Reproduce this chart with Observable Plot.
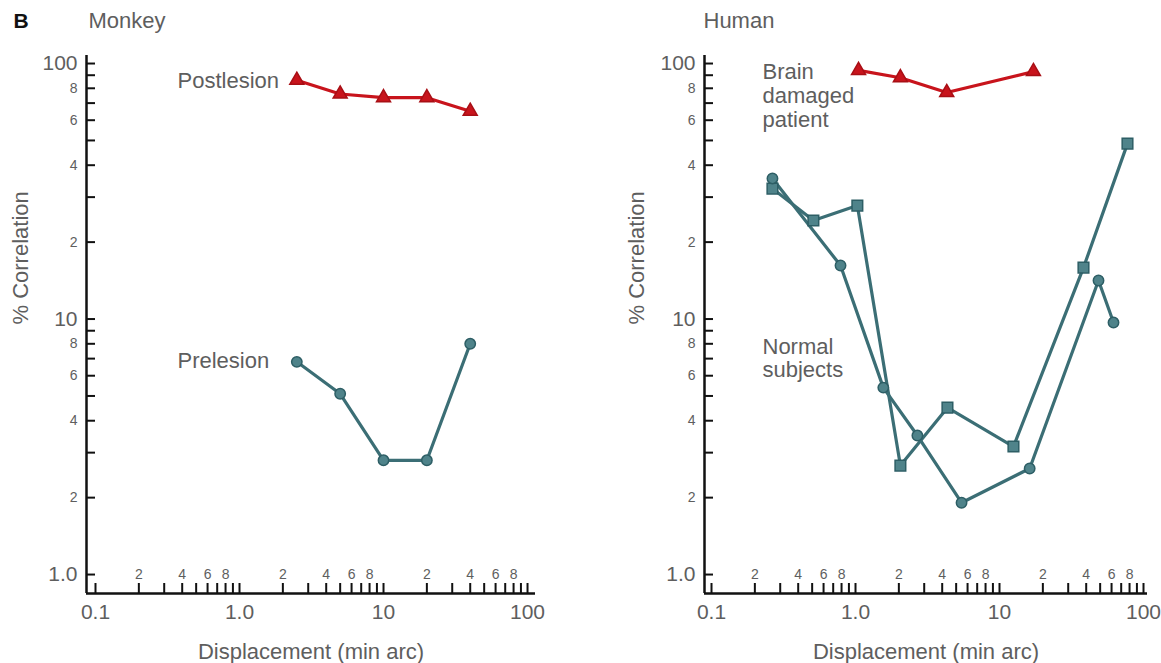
<!DOCTYPE html>
<html><head><meta charset="utf-8">
<script src="https://cdn.jsdelivr.net/npm/d3@7"></script>
<script src="https://cdn.jsdelivr.net/npm/@observablehq/plot@0.6"></script>
<style>
html,body{margin:0;padding:0;background:#fff;}
#wrap{position:relative;width:1161px;height:663px;overflow:hidden;background:#fff;}
#left{position:absolute;left:0;top:0;}
#right{position:absolute;left:600px;top:0;}
svg{overflow:visible;}
</style></head><body>
<div id="wrap"><div id="left"></div><div id="right"></div></div>
<script>
// ---- Data ----
const monkeyDisplacement = [2.5, 5, 10, 20, 40];
const monkeyPostlesion   = [86, 76, 73.5, 73.5, 65];
const monkeyPrelesion    = [6.8, 5.1, 2.8, 2.8, 8.0];

const patientDisplacement = [1.05, 2.05, 4.3, 17.2];
const patientCorrelation  = [94, 88, 77, 93];

const normalSquareDisplacement = [0.265, 0.51, 1.03, 2.05, 4.35, 12.5, 38.3, 77.4];
const normalSquareCorrelation  = [32.4, 24.3, 27.8, 2.67, 4.5, 3.17, 15.9, 48.6];
const normalCircleDisplacement = [0.265, 0.787, 1.56, 2.69, 5.45, 16.2, 48.7, 61.9];
const normalCircleCorrelation  = [35.5, 16.2, 5.39, 3.5, 1.91, 2.6, 14.15, 9.69];

// ---- Axis ticks and tick labels ----
const xTickValues = [0.1,0.2,0.3,0.4,0.5,0.6,0.7,0.8,0.9,1,2,3,4,5,6,7,8,9,10,20,30,40,50,60,70,80,90,100];
const yTickValues = [1,2,3,4,5,6,7,8,9,10,20,30,40,50,60,70,80,90,100];
const xMajorTicks = [0.1, 1, 10, 100];
const xMajorLabels = ["0.1", "1.0", "10", "100"];
const xMinorTicks = [0.2,0.4,0.6,0.8,2,4,6,8,20,40,60,80];
const xMinorLabels = ["2","4","6","8","2","4","6","8","2","4","6","8"];
const yMajorTicks = [1, 10, 100];
const yMajorLabels = ["1.0", "10", "100"];
const yMinorTicks = [2,4,6,8,20,40,60,80];
const yMinorLabels = ["2","4","6","8","2","4","6","8"];

const xTitle = "Displacement (min arc)";
const yTitle = "% Correlation";

const yDomain = [0.843, 107.5];

const RED = "#c8141c", TEAL = "#3b6e75", TEAL_FILL = "#4f838a", TEAL_DARK = "#2d5e65";
const GRAY = "#5e5e5e";
const FONT = "'Liberation Sans', Arial, sans-serif";

const toRows = (xs, ys) => xs.map((x, i) => ({x, y: ys[i]}));

function panel(el, cfg) {
  const H = 663, mt = 55, mb = 70;
  const innerW = cfg.width - cfg.marginLeft - cfg.marginRight;
  const innerH = H - mt - mb;
  const marks = [
    // axis lines
    Plot.ruleY([yDomain[0]], {stroke: "#111", strokeWidth: 2.5}),
    Plot.ruleX([cfg.xDomain[0]], {stroke: "#111", strokeWidth: 2.5}),
    // inward ticks
    Plot.tickX(xTickValues, {x: d => d, insetTop: innerH - 10, stroke: "#111", strokeWidth: 2}),
    Plot.tickY(yTickValues, {y: d => d, insetRight: innerW - 9, stroke: "#111", strokeWidth: 2}),
    // x labels
    Plot.text(xMinorTicks, {x: d => d, text: (d, i) => xMinorLabels[i], frameAnchor: "bottom", lineAnchor: "bottom", dy: -15, fontSize: 14, fill: GRAY}),
    Plot.text(xMajorTicks, {x: d => d, text: (d, i) => xMajorLabels[i], frameAnchor: "bottom", lineAnchor: "top", dy: 11, fontSize: 21, fill: GRAY}),
    // y labels
    Plot.text(yMinorTicks, {y: d => d, text: (d, i) => yMinorLabels[i], frameAnchor: "left", textAnchor: "end", dx: -9, fontSize: 14, fill: GRAY}),
    Plot.text(yMajorTicks, {y: d => d, text: (d, i) => yMajorLabels[i], frameAnchor: "left", textAnchor: "end", dx: -9, fontSize: 21, fill: GRAY}),
    // axis titles
    Plot.text([xTitle], {frameAnchor: "bottom", lineAnchor: "bottom", dy: 65, fontSize: 22, fill: GRAY}),
    Plot.text([yTitle], {frameAnchor: "left", rotate: -90, dx: cfg.yTitleDx, fontSize: 22, fill: GRAY}),
    // panel title
    Plot.text([cfg.title], {frameAnchor: "top-left", textAnchor: "start", lineAnchor: "bottom", dx: cfg.titleDx, dy: -28, fontSize: 22, fill: GRAY})
  ];
  if (cfg.letter) {
    marks.push(Plot.text([cfg.letter], {frameAnchor: "top-left", textAnchor: "start", lineAnchor: "bottom", dx: -73, dy: -28, fontSize: 21, fontWeight: "bold", fill: "#111"}));
  }
  for (const s of cfg.series) {
    marks.push(Plot.line(s.data, {x: "x", y: "y", stroke: s.line, strokeWidth: 3.2, strokeLinejoin: "round"}));
  }
  for (const s of cfg.series) {
    marks.push(Plot.dot(s.data, {x: "x", y: "y", symbol: s.symbol, r: s.r, fill: s.fill, stroke: s.stroke, strokeWidth: 1.5}));
  }
  for (const a of cfg.annotations) {
    marks.push(Plot.text([a], {x: "x", y: "y", text: "text", textAnchor: "start", lineAnchor: "middle", lineHeight: 1.07, fontSize: 22, fill: GRAY}));
  }
  const chart = Plot.plot({
    width: cfg.width, height: H,
    marginLeft: cfg.marginLeft, marginRight: cfg.marginRight, marginTop: mt, marginBottom: mb,
    style: {fontFamily: FONT, background: "transparent", overflow: "visible"},
    x: {type: "log", domain: cfg.xDomain, axis: null},
    y: {type: "log", domain: yDomain, axis: null},
    marks
  });
  el.appendChild(chart);
}

panel(document.getElementById("left"), {
  width: 600, marginLeft: 86, marginRight: 65,
  xDomain: [0.0866, 113.6],
  title: "Monkey", titleDx: 2, letter: "B", yTitleDx: -66,
  series: [
    {data: toRows(monkeyDisplacement, monkeyPostlesion), symbol: "triangle", r: 5.2, line: RED, fill: RED, stroke: "#a80f15"},
    {data: toRows(monkeyDisplacement, monkeyPrelesion), symbol: "circle", r: 5.2, line: TEAL, fill: TEAL_FILL, stroke: TEAL_DARK}
  ],
  annotations: [
    {text: "Postlesion", x: 0.371, y: 85.8},
    {text: "Prelesion", x: 0.371, y: 6.9}
  ]
});

panel(document.getElementById("right"), {
  width: 561, marginLeft: 104, marginRight: 14,
  xDomain: [0.0894, 106.6],
  title: "Human", titleDx: -1, letter: null, yTitleDx: -68,
  series: [
    {data: toRows(patientDisplacement, patientCorrelation), symbol: "triangle", r: 5.2, line: RED, fill: RED, stroke: "#a80f15"},
    {data: toRows(normalSquareDisplacement, normalSquareCorrelation), symbol: "square", r: 6, line: TEAL, fill: TEAL_FILL, stroke: TEAL_DARK},
    {data: toRows(normalCircleDisplacement, normalCircleCorrelation), symbol: "circle", r: 5.2, line: TEAL, fill: TEAL_FILL, stroke: TEAL_DARK}
  ],
  annotations: [
    {text: "Brain\ndamaged\npatient", x: 0.226, y: 75},
    {text: "Normal\nsubjects", x: 0.226, y: 7.04}
  ]
});
</script>
</body></html>
